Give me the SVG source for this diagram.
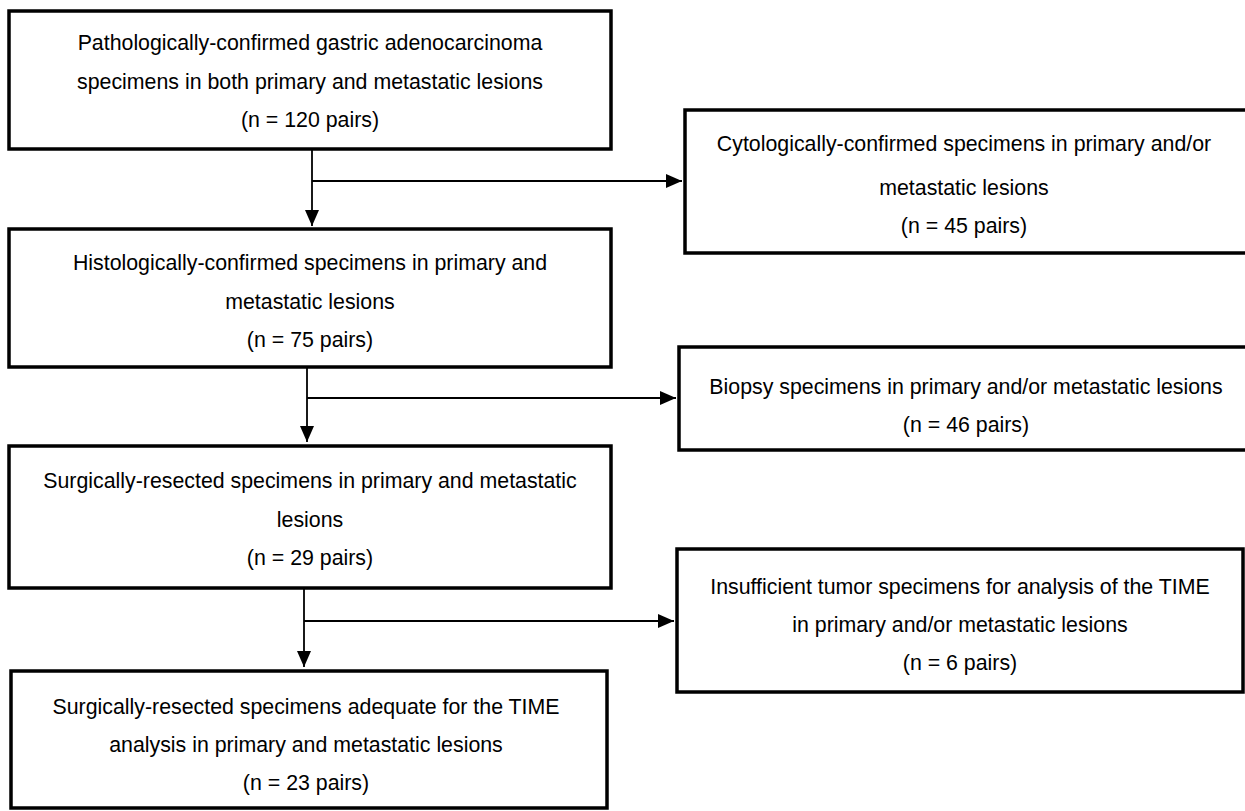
<svg xmlns="http://www.w3.org/2000/svg" width="1245" height="811" viewBox="0 0 1245 811">
<defs>
<style>
.box{fill:#fff;stroke:#000;stroke-width:3.5}
.t{font-family:"Liberation Sans",Arial,sans-serif;font-size:21.33px;fill:#000;text-anchor:middle}
.c{fill:none;stroke:#000;stroke-width:1.8}
</style>
<marker id="ah" markerUnits="userSpaceOnUse" markerWidth="17" markerHeight="15" refX="16" refY="7" orient="auto">
<path d="M0,0 L16,7 L0,14 z" fill="#000"/>
</marker>
</defs>
<rect width="1245" height="811" fill="#fff"/>
<g id="connectors">
<line class="c" x1="312" y1="149" x2="312" y2="226" marker-end="url(#ah)"/>
<line class="c" x1="312" y1="181" x2="682" y2="181" marker-end="url(#ah)"/>
<line class="c" x1="307" y1="367" x2="307" y2="442" marker-end="url(#ah)"/>
<line class="c" x1="307" y1="398" x2="676" y2="398" marker-end="url(#ah)"/>
<line class="c" x1="304" y1="588" x2="304" y2="667" marker-end="url(#ah)"/>
<line class="c" x1="304" y1="621" x2="674" y2="621" marker-end="url(#ah)"/>
</g>
<g id="n1">
<rect class="box" x="9" y="11" width="602" height="138"/>
<text class="t" x="310" y="50">Pathologically-confirmed gastric adenocarcinoma</text>
<text class="t" x="310" y="89">specimens in both primary and metastatic lesions</text>
<text class="t" x="310" y="127">(n = 120 pairs)</text>
</g>
<g id="n2">
<rect class="box" x="685" y="110" width="565" height="143"/>
<text class="t" x="964" y="151">Cytologically-confirmed specimens in primary and/or</text>
<text class="t" x="964" y="195">metastatic lesions</text>
<text class="t" x="964" y="233">(n = 45 pairs)</text>
</g>
<g id="n3">
<rect class="box" x="9" y="229" width="602" height="138"/>
<text class="t" x="310" y="270">Histologically-confirmed specimens in primary and</text>
<text class="t" x="310" y="309">metastatic lesions</text>
<text class="t" x="310" y="347">(n = 75 pairs)</text>
</g>
<g id="n4">
<rect class="box" x="679" y="347" width="571" height="103"/>
<text class="t" x="966" y="394">Biopsy specimens in primary and/or metastatic lesions</text>
<text class="t" x="966" y="432">(n = 46 pairs)</text>
</g>
<g id="n5">
<rect class="box" x="9" y="446" width="602" height="142"/>
<text class="t" x="310" y="488">Surgically-resected specimens in primary and metastatic</text>
<text class="t" x="310" y="527">lesions</text>
<text class="t" x="310" y="565">(n = 29 pairs)</text>
</g>
<g id="n6">
<rect class="box" x="677" y="549" width="566" height="143"/>
<text class="t" x="960" y="594">Insufficient tumor specimens for analysis of the TIME</text>
<text class="t" x="960" y="632">in primary and/or metastatic lesions</text>
<text class="t" x="960" y="670">(n = 6 pairs)</text>
</g>
<g id="n7">
<rect class="box" x="11" y="671" width="596" height="137"/>
<text class="t" x="306" y="714">Surgically-resected specimens adequate for the TIME</text>
<text class="t" x="306" y="752">analysis in primary and metastatic lesions</text>
<text class="t" x="306" y="790">(n = 23 pairs)</text>
</g>
</svg>
